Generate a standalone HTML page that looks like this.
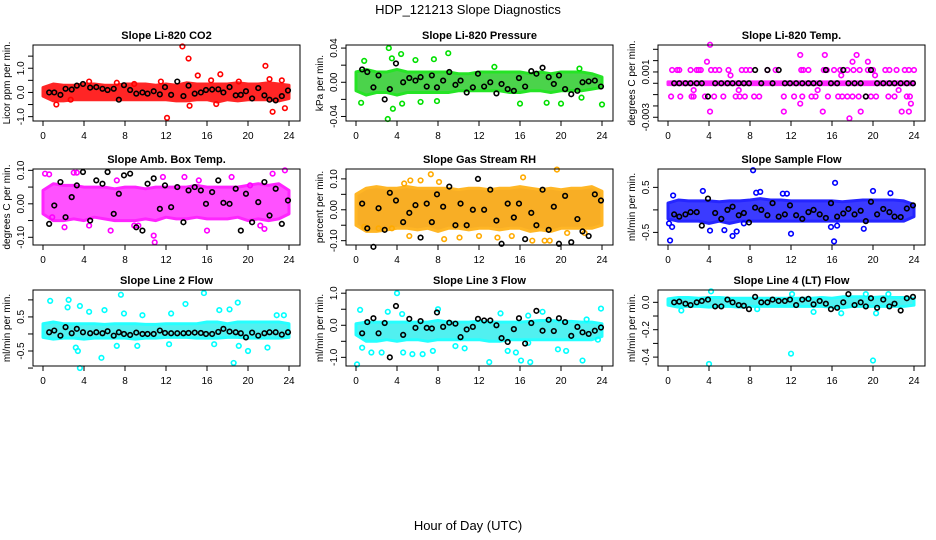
<!DOCTYPE html>
<html><head><meta charset="utf-8"><style>
body{margin:0;background:#fff;}
svg{display:block;font-family:"Liberation Sans",sans-serif;}
</style></head><body>
<svg id="chart" width="936" height="540" viewBox="0 0 936 540" xmlns="http://www.w3.org/2000/svg">
<rect x="0" y="0" width="936" height="540" fill="#fff"/>
<text x="468" y="14" text-anchor="middle" font-size="13">HDP_121213  Slope Diagnostics</text>
<text x="468" y="530" text-anchor="middle" font-size="13">Hour of Day (UTC)</text>
</svg>
<script>
const xTicks = [0,4,8,12,16,20,24];
const blackX = [0.6,1.1,1.7,2.2,2.8,3.3,3.9,4.6,5.2,5.8,6.3,6.9,7.4,7.9,8.5,9.1,9.7,10.2,10.8,11.4,11.9,12.5,13.1,13.7,14.2,14.8,15.4,15.9,16.5,17.1,17.6,18.2,18.8,19.3,19.8,20.4,21.0,21.6,22.1,22.7,23.3,23.9];

// Panel 1 CO2
const p1Lo = [-0.15,-0.35,-0.35,-0.3,-0.3,-0.3,-0.3,-0.3,-0.3,-0.3,-0.3,-0.3,-0.3,-0.35,-0.35,-0.3,-0.3,-0.4,-0.3,-0.35,-0.3,-0.3,-0.3,-0.35,-0.25];
const p1Hi = [0.2,0.35,0.3,0.3,0.35,0.35,0.3,0.3,0.35,0.35,0.35,0.3,0.35,0.3,0.4,0.35,0.35,0.35,0.35,0.4,0.35,0.35,0.4,0.35,0.3];
const p1OutX = [13.6,14.2,12.1,21.7,17.3,15.1,16.4,22.4,23.6,14.3,1.3,4.5,19.1,22.1,23.3,16.9,7.2,11.5,8.9,2.7];
const p1OutY = [1.9,1.4,-1.05,1.1,0.75,0.7,0.5,-0.8,-0.65,-0.55,-0.5,0.45,0.45,0.55,0.5,-0.48,0.4,0.45,0.35,-0.3];
const p1Black = [0,0,-0.1,0.15,0.12,0.28,0.35,0.2,0.22,0.15,0.1,0.15,-0.3,0.3,0.1,-0.05,0,-0.05,0.05,-0.08,0.22,-0.1,0.45,-0.15,0.28,-0.05,0,0.1,0.12,0.13,0,0.22,-0.12,-0.1,0.05,-0.25,0.18,-0.12,-0.3,-0.33,-0.15,0.08];
const p1Ticks = [-1,-0.5,0,0.5,1,1.5];
const p1Labels = ["-1.0","","0.0","","1.0",""];

// Panel 2 Pressure
const p2Lo = [-0.01,-0.015,-0.012,-0.012,-0.015,-0.012,-0.012,-0.012,-0.012,-0.012,-0.01,-0.01,-0.01,-0.01,-0.01,-0.012,-0.012,-0.01,-0.01,-0.012,-0.01,-0.01,-0.01,-0.008,-0.006];
const p2Hi = [0.012,0.015,0.012,0.012,0.015,0.012,0.012,0.012,0.012,0.012,0.01,0.01,0.012,0.012,0.012,0.012,0.012,0.01,0.012,0.01,0.012,0.012,0.012,0.01,0.006];
const p2OutX = [3.2,9,4.4,3.5,7.6,5.8,0.8,7.9,3.1,3.6,0.5,4.5,6.3,16,18.6,20,24,13.5,22,21.8];
const p2OutY = [0.04,0.034,0.033,0.028,0.027,0.026,0.025,-0.022,-0.043,-0.031,-0.024,-0.025,-0.023,-0.025,-0.024,-0.025,-0.026,0.018,-0.018,0.016];
const p2Black = [0.015,0.012,-0.006,0.008,-0.02,-0.008,0.022,0,0.005,0.002,0.006,-0.005,0.008,-0.006,0.002,0.012,-0.003,0.002,-0.012,-0.006,0.01,-0.005,0,-0.013,-0.002,-0.008,-0.01,0.005,-0.005,0.013,0.01,0.017,0.006,-0.002,0.008,-0.008,-0.014,-0.01,0,0.001,0.002,-0.005];
const p2Ticks = [-0.04,-0.02,0,0.02,0.04];
const p2Labels = ["-0.04","","0.00","","0.04"];

// Panel 3 Li-820 Temp
const p3Lo = [-0.00012,-0.00012,-0.00012,-0.00012,-0.00012,-0.00012,-0.00012,-0.00012,-0.00012,-0.00012,-0.00012,-0.00012,-0.00012,-0.00012,-0.00012,-0.00012,-0.00012,-0.00012,-0.00012,-0.00012,-0.00012,-0.00012,-0.00012,-0.00012,-0.00012];
const p3Hi = [0.00012,0.00012,0.00012,0.00012,0.00012,0.00012,0.00012,0.00012,0.00012,0.00012,0.00012,0.00012,0.00012,0.00012,0.00012,0.00012,0.00012,0.00012,0.00012,0.00012,0.00012,0.00012,0.00012,0.00012,0.00012];
const p3OutX = [0.4,0.9,1.1,2.2,2.8,3.0,3.2,4.2,4.6,5.0,5.9,7.2,7.6,8.0,9.7,10.5,13.0,13.2,13.7,15.2,15.5,16.2,16.8,17.5,18.1,18.7,19.5,20.0,21.2,21.6,22.3,23.1,23.5,24,
 0.3,1.2,2.3,2.5,3.6,4.5,5.4,6.6,7.0,7.5,8.4,8.9,11.3,12.3,13.1,14.0,14.4,15.6,16.6,17.0,17.5,18.0,18.6,19.3,19.8,20.3,21.5,22.1,23.3,23.6,
 4.1,3.8,12.9,15.3,18.4,19.5,18.0,6.1,16.9,20.2,2.5,14.6,6.9,22.5,12.9,23.7,4.1,11.3,15.1,18.8,22.8,23.5,17.7];
const p3OutY = [0.00117,0.00117,0.00117,0.00117,0.00117,0.00117,0.00117,0.00117,0.00117,0.00117,0.00117,0.00117,0.00117,0.00117,0.00117,0.00117,0.00117,0.00117,0.00117,0.00117,0.00117,0.00117,0.00117,0.00117,0.00117,0.00117,0.00117,0.00117,0.00117,0.00117,0.00117,0.00117,0.00117,0.00117,
 -0.00117,-0.00117,-0.00117,-0.00117,-0.00117,-0.00117,-0.00117,-0.00117,-0.00117,-0.00117,-0.00117,-0.00117,-0.00117,-0.00117,-0.00117,-0.00117,-0.00117,-0.00117,-0.00117,-0.00117,-0.00117,-0.00117,-0.00117,-0.00117,-0.00117,-0.00117,-0.00117,-0.00117,-0.00117,-0.00117,
 0.0034,0.0019,0.0025,0.0025,0.0025,0.0019,0.0019,0.0007,0.0007,0.0007,-0.0006,-0.0006,-0.0006,-0.0006,-0.0018,-0.0018,-0.0025,-0.0025,-0.0025,-0.0025,-0.0025,-0.0025,-0.0031];
const p3Black = [0,0,0,0,0,0,-0.00117,0,0,0,0,0,0,0,0.00117,0,0.00117,0,0.00117,0,0,0,0,0,0,0,0.00117,0,0,0.00117,0,0,0,-0.00117,0.00117,0,0,0,0,0,0,0];
const p3Ticks = [-0.003,-0.002,-0.001,0,0.001,0.002,0.003];
const p3Labels = ["-0.003","","","","0.001","",""];

// Panel 4 Amb Box Temp
const p4Lo = [-0.03,-0.05,-0.05,-0.045,-0.05,-0.04,-0.045,-0.05,-0.05,-0.05,-0.045,-0.05,-0.04,-0.045,-0.045,-0.04,-0.045,-0.045,-0.045,-0.04,-0.05,-0.045,-0.05,-0.045,-0.03];
const p4Hi = [0.04,0.06,0.055,0.055,0.05,0.05,0.05,0.045,0.05,0.05,0.045,0.05,0.05,0.05,0.05,0.055,0.05,0.05,0.05,0.05,0.055,0.06,0.055,0.06,0.04];
const p4OutX = [0.2,0.6,3,3.3,10.9,10.8,8.9,9.3,6.6,16,2.1,4.5,21.2,21.6,23.6,22.4,7.2,13.8,18.4,11.7,0.9,15.2,20.2];
const p4OutY = [0.09,0.088,0.093,0.093,-0.115,-0.095,-0.065,-0.065,-0.08,-0.08,-0.07,-0.065,-0.065,-0.075,0.1,0.09,0.07,0.08,0.08,0.08,-0.04,0.07,0.055];
const p4Black = [-0.06,-0.005,0.065,-0.04,0.02,0.055,0.095,-0.05,0.07,0.06,0.095,-0.03,0.03,0.085,0.09,-0.07,-0.08,0.06,0.076,-0.015,0.055,-0.01,0.05,-0.055,0.04,0.05,0.04,0.0,0.035,0.07,0.003,0.0,0.045,-0.08,0.03,-0.055,0.005,0.065,-0.035,0.045,-0.06,0.01];
const p4Ticks = [-0.1,-0.05,0,0.05,0.1];
const p4Labels = ["-0.10","","0.00","","0.10"];

// Panel 5 Gas Stream RH
const p5Lo = [-0.05,-0.07,-0.07,-0.065,-0.06,-0.06,-0.065,-0.06,-0.07,-0.06,-0.06,-0.065,-0.06,-0.06,-0.065,-0.06,-0.06,-0.07,-0.065,-0.07,-0.06,-0.06,-0.06,-0.06,-0.05];
const p5Hi = [0.05,0.07,0.075,0.07,0.07,0.075,0.07,0.07,0.07,0.07,0.065,0.07,0.07,0.065,0.07,0.07,0.075,0.07,0.065,0.07,0.065,0.07,0.07,0.075,0.06];
const p5OutX = [19.6,7.3,16.3,8.1,5.3,4.7,17.2,18.4,18.9,8.6,5.2,12.0,13.8,15.2,3.5,10.1,22.3,2.2,20.6,0.8,6.3];
const p5OutY = [0.13,0.115,0.105,0.09,0.095,0.085,-0.1,-0.1,-0.1,-0.095,-0.085,-0.085,-0.09,-0.085,-0.06,-0.09,-0.075,-0.06,-0.075,-0.055,0.095];
const p5Black = [0.02,-0.06,-0.12,0.005,-0.065,0.055,0.03,-0.04,-0.01,0.015,-0.09,0.02,-0.04,0.05,0.01,0.075,-0.05,0.02,-0.05,0.0,0.1,0.0,0.065,-0.035,-0.11,0.02,-0.025,0.02,-0.095,-0.01,-0.05,0.065,-0.065,0.01,-0.11,0.045,-0.105,-0.03,-0.07,-0.085,0.05,0.03];
const p5Ticks = [-0.1,-0.05,0,0.05,0.1];
const p5Labels = ["-0.10","","0.00","","0.10"];

// Panel 6 Sample Flow
const p6Lo = [-0.2,-0.25,-0.25,-0.25,-0.3,-0.25,-0.3,-0.25,-0.25,-0.25,-0.25,-0.25,-0.25,-0.25,-0.25,-0.25,-0.25,-0.25,-0.25,-0.25,-0.25,-0.25,-0.25,-0.25,-0.15];
const p6Hi = [0.15,0.22,0.2,0.2,0.2,0.18,0.2,0.2,0.22,0.25,0.22,0.22,0.2,0.2,0.2,0.2,0.2,0.18,0.2,0.22,0.22,0.22,0.22,0.2,0.12];
const p6OutX = [8.3,16.3,3.4,0.2,16.2,6.3,6.7,4.1,5.5,12.0,19.1,15.9,16.5,0.4,0.1,8.6,9,11.2,11.6,20,21.7,0.5,7.4];
const p6OutY = [0.88,0.6,0.42,-0.68,-0.7,-0.58,-0.48,-0.46,-0.45,-0.53,-0.42,-0.38,-0.35,-0.38,-0.3,0.38,0.4,0.36,0.36,0.42,0.37,0.32,-0.3];
const p6Black = [-0.1,-0.15,-0.1,-0.05,-0.05,-0.35,0.25,-0.07,-0.2,0.0,0.07,-0.12,-0.07,-0.28,0.05,0.0,-0.12,0.15,-0.15,-0.1,0.1,-0.12,-0.2,-0.05,0.0,-0.1,-0.18,0.15,-0.15,-0.08,0.02,-0.1,-0.02,-0.25,0.18,-0.1,0.02,-0.05,-0.15,-0.16,0.03,0.1];
const p6Ticks = [-0.5,0,0.5];
const p6Labels = ["-0.5","","0.5"];

// Panel 7 Line 2 Flow
const p7Lo = [-0.1,-0.15,-0.12,-0.12,-0.15,-0.12,-0.12,-0.12,-0.12,-0.15,-0.12,-0.12,-0.1,-0.1,-0.1,-0.12,-0.12,-0.12,-0.1,-0.1,-0.12,-0.12,-0.12,-0.12,-0.1];
const p7Hi = [0.3,0.35,0.3,0.3,0.3,0.3,0.28,0.3,0.3,0.3,0.28,0.28,0.3,0.3,0.3,0.3,0.35,0.35,0.3,0.35,0.35,0.35,0.35,0.35,0.3];
const p7OutX = [15.7,7.6,0.7,2.5,13.9,19.0,2.4,3.6,6.0,17.2,18.2,4.5,7.9,3.6,18.6,5.7,20.0,3.2,3.4,21.9,16.7,7.2,12.3,9.2,19.1,23.5,22.8,12.5,9.7];
const p7OutY = [1.2,1.15,0.97,1.0,0.88,0.92,0.78,0.82,0.7,0.7,0.72,0.65,0.6,-1.0,-0.85,-0.7,-0.5,-0.4,-0.5,-0.4,-0.3,-0.35,-0.3,-0.35,-0.35,0.55,0.55,0.6,0.55];
const p7Black = [0.05,0.1,-0.05,0.2,0.02,0.15,0.05,0.02,0.05,0.02,0.08,-0.05,0.05,0.0,-0.03,0.04,0.0,0.0,0.0,0.1,0.03,0.02,0.02,0.02,0.03,0.04,0.03,0.0,0.0,0.06,0.15,0.07,0.05,0.02,-0.1,0.04,-0.05,0.02,0.05,0.05,-0.02,0.05];
const p7Ticks = [-1,-0.5,0,0.5,1];
const p7Labels = ["","-0.5","","0.5",""];

// Panel 8 Line 3 Flow
const p8Lo = [-0.3,-0.5,-0.5,-0.45,-0.5,-0.45,-0.45,-0.5,-0.45,-0.45,-0.45,-0.45,-0.45,-0.5,-0.5,-0.45,-0.45,-0.45,-0.45,-0.45,-0.45,-0.45,-0.45,-0.45,-0.35];
const p8Hi = [0.05,0.1,0.1,0.1,0.1,0.1,0.1,0.1,0.15,0.1,0.1,0.1,0.12,0.1,0.1,0.1,0.1,0.12,0.15,0.15,0.12,0.12,0.1,0.1,0.05];
const p8OutX = [0.1,4.0,23.9,0.4,3.1,14.1,18.2,16.1,17.0,13.0,22.1,1.5,2.5,4.6,5.5,6.5,7.5,0.6,14.8,15.6,19.7,20.5,16.8,10.6,9.7,23.6,4.5,8.0,16.8,22.5];
const p8OutY = [-1.22,1.0,0.52,0.48,0.42,0.37,0.42,-1.1,-1.15,-1.15,-1.1,-0.85,-0.85,-0.85,-0.9,-0.9,-0.8,-0.7,-0.8,-0.85,-0.75,-0.8,-0.55,-0.72,-0.65,-0.45,0.35,0.5,0.3,0.18];
const p8Black = [-0.25,0.1,0.22,-0.25,0.07,-1.0,0.6,-0.3,0.2,-0.08,0.13,-0.08,-0.1,0.4,-0.05,0.08,0.05,-0.37,-0.13,-0.05,0.2,0.15,0.15,0.0,-0.4,-0.52,-0.12,0.22,-0.57,0.07,0.45,-0.17,0.17,-0.18,0.22,0.1,-0.33,-0.05,-0.22,-0.27,-0.17,-0.07];
const p8Ticks = [-1,-0.5,0,0.5,1];
const p8Labels = ["-1.0","","0.0","","1.0"];

// Panel 9 Line 4 (LT) Flow
const p9Lo = [-0.02,-0.035,-0.03,-0.03,-0.035,-0.03,-0.03,-0.035,-0.03,-0.03,-0.03,-0.03,-0.03,-0.03,-0.03,-0.03,-0.035,-0.04,-0.03,-0.03,-0.03,-0.03,-0.03,-0.03,-0.02];
const p9Hi = [0.025,0.035,0.035,0.03,0.035,0.035,0.03,0.03,0.03,0.03,0.03,0.03,0.03,0.03,0.03,0.035,0.03,0.04,0.04,0.04,0.035,0.04,0.035,0.035,0.03];
const p9OutX = [4.0,12.0,20.0,4.2,12.1,1.3,14.2,16.9,20.3,8.7,19.3,21.5];
const p9OutY = [-0.45,-0.375,-0.425,0.08,0.06,-0.06,-0.07,-0.08,-0.08,-0.05,0.06,0.06];
const p9Black = [0.0,0.005,-0.01,-0.02,0.0,0.01,0.02,-0.03,-0.03,0.02,0.0,-0.02,-0.025,-0.05,0.04,0.0,0.0,0.02,0.01,0.01,0.02,-0.02,0.02,0.025,-0.015,0.01,-0.01,-0.05,-0.04,0.0,0.06,-0.02,0.0,-0.03,0.03,-0.04,0.02,-0.03,-0.01,-0.06,0.03,0.04];
const p9Ticks = [-0.4,-0.3,-0.2,-0.1,0];
const p9Labels = ["-0.4","","-0.2","","0.0"];

const NS = "http://www.w3.org/2000/svg";
const svg = document.getElementById('chart');
function mk(tag, attrs, parent){
  const e = document.createElementNS(NS, tag);
  for (const k in attrs) e.setAttribute(k, attrs[k]);
  (parent||svg).appendChild(e);
  return e;
}

const panels = [
 {key:'co2', title:'Slope Li-820 CO2', ylab:'Licor ppm per min.', left:33, top:45, ymin:-1.18, ymax:1.96, color:'#ff0000', band:'#ff0000', lo:p1Lo, hi:p1Hi, ox:p1OutX, oy:p1OutY, bk:p1Black, ticks:p1Ticks, labels:p1Labels},
 {key:'pressure', title:'Slope Li-820 Pressure', ylab:'kPa per min.', left:346, top:45, ymin:-0.0453, ymax:0.0436, color:'#00e000', band:'#2ccc2c', lo:p2Lo, hi:p2Hi, ox:p2OutX, oy:p2OutY, bk:p2Black, ticks:p2Ticks, labels:p2Labels},
 {key:'li820-temp', title:'Slope Li-820 Temp.', ylab:'degrees C per min.', left:658, top:45, ymin:-0.00333, ymax:0.00338, color:'#ff00ff', band:'#ff00ff', lo:p3Lo, hi:p3Hi, ox:p3OutX, oy:p3OutY, bk:p3Black, ticks:p3Ticks, labels:p3Labels},
 {key:'amb-box-temp', title:'Slope Amb. Box Temp.', ylab:'degrees C per min.', left:33, top:169, ymin:-0.123, ymax:0.104, color:'#ff00ff', band:'#ff33ff', lo:p4Lo, hi:p4Hi, ox:p4OutX, oy:p4OutY, bk:p4Black, ticks:p4Ticks, labels:p4Labels},
 {key:'gas-rh', title:'Slope Gas Stream RH', ylab:'percent per min.', left:346, top:169, ymin:-0.114, ymax:0.132, color:'#ffaa00', band:'#f7a000', lo:p5Lo, hi:p5Hi, ox:p5OutX, oy:p5OutY, bk:p5Black, ticks:p5Ticks, labels:p5Labels},
 {key:'sample-flow', title:'Slope Sample Flow', ylab:'ml/min per min.', left:658, top:169, ymin:-0.78, ymax:0.908, color:'#0000ff', band:'#1a1aff', lo:p6Lo, hi:p6Hi, ox:p6OutX, oy:p6OutY, bk:p6Black, ticks:p6Ticks, labels:p6Labels},
 {key:'line2-flow', title:'Slope Line 2 Flow', ylab:'ml/min per min.', left:33, top:290, ymin:-0.94, ymax:1.29, color:'#00ffff', band:'#33eeee', lo:p7Lo, hi:p7Hi, ox:p7OutX, oy:p7OutY, bk:p7Black, ticks:p7Ticks, labels:p7Labels},
 {key:'line3-flow', title:'Slope Line 3 Flow', ylab:'ml/min per min.', left:346, top:290, ymin:-1.27, ymax:1.10, color:'#00ffff', band:'#33eeee', lo:p8Lo, hi:p8Hi, ox:p8OutX, oy:p8OutY, bk:p8Black, ticks:p8Ticks, labels:p8Labels},
 {key:'line4-flow', title:'Slope Line 4 (LT) Flow', ylab:'ml/min per min.', left:658, top:290, ymin:-0.465, ymax:0.09, color:'#00ffff', band:'#33eeee', lo:p9Lo, hi:p9Hi, ox:p9OutX, oy:p9OutY, bk:p9Black, ticks:p9Ticks, labels:p9Labels}
];
const W = 267, H = 76;

panels.forEach(p => {
  const g = mk('g', {});
  
  
  const xs = v => p.left + 10 + v / 24 * 246;
  const ys = v => p.top + H - (v - p.ymin) / (p.ymax - p.ymin) * H;
  const bottom = p.top + H;

  const t = mk('text', {x: p.left + W/2, y: p.top - 6, 'text-anchor':'middle', 'font-size':11, 'font-weight':'bold'}, g);
  t.textContent = p.title;
  
  

  const yl = mk('text', {x:0, y:0, 'text-anchor':'middle', 'font-size':10, transform:`translate(${p.left-23},${p.top+H/2}) rotate(-90)`}, g);
  yl.textContent = p.ylab;
  
  

  let d = '';
  p.hi.forEach((v,i) => { d += (i ? 'L' : 'M') + xs(i).toFixed(1) + ',' + ys(v).toFixed(1); });
  for (let i = p.lo.length - 1; i >= 0; i--) d += 'L' + xs(i).toFixed(1) + ',' + ys(p.lo[i]).toFixed(1);
  d += 'Z';
  const band = mk('path', {d: d, fill: p.band, stroke: p.color, 'stroke-width': 3, 'stroke-linejoin':'round', opacity: 0.85}, g);
  
  

  p.ox.forEach((x,i) => {
    const c = mk('circle', {cx: xs(x), cy: ys(p.oy[i]), r: 2.3, fill:'none', stroke: p.color, 'stroke-width': 1.6}, g);
    
    
  });
  p.bk.forEach((v,i) => {
    const c = mk('circle', {cx: xs(blackX[i]), cy: ys(v), r: 2.3, fill:'none', stroke:'#000', 'stroke-width': 1.6}, g);
    
    
  });

  const box = mk('rect', {x: p.left, y: p.top, width: W, height: H, fill:'none', stroke:'#000', 'stroke-width':1}, g);
  
  

  xTicks.forEach(v => {
    const tl = mk('line', {x1: xs(v), x2: xs(v), y1: bottom, y2: bottom + 5, stroke:'#000'}, g);
    
    
    const tx = mk('text', {x: xs(v), y: bottom + 18, 'text-anchor':'middle', 'font-size':10}, g);
    tx.textContent = String(v);
    
    
  });
  p.ticks.forEach((v,i) => {
    const tl = mk('line', {x1: p.left - 5, x2: p.left, y1: ys(v), y2: ys(v), stroke:'#000'}, g);
    
    
    if (p.labels[i]) {
      const tx = mk('text', {x:0, y:0, 'text-anchor':'middle', 'font-size':10, transform:`translate(${p.left-9},${ys(v)}) rotate(-90)`}, g);
      tx.textContent = p.labels[i];
      
      
    }
  });
});
</script>
</body></html>
